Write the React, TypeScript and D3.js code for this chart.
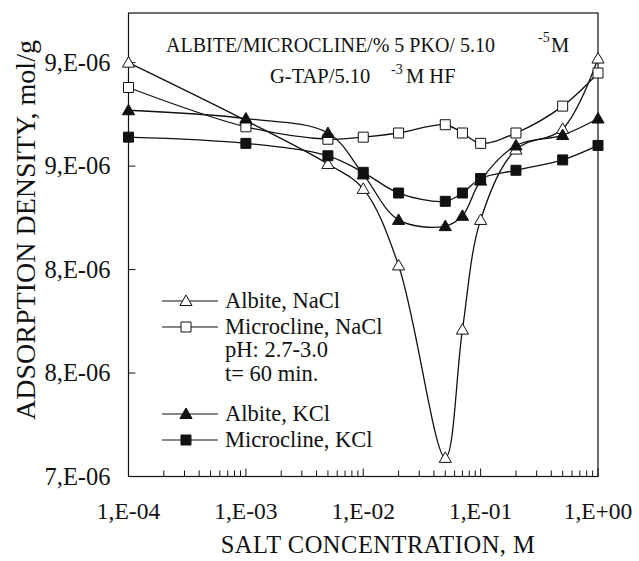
import React, { useEffect } from 'react';
import * as d3 from 'd3';

// salt concentration, M
const concentrations = [1e-4, 1e-3, 5e-3, 1e-2, 2e-2, 5e-2, 7e-2, 1e-1, 2e-1, 5e-1, 1];

// adsorption density, 1e-6 mol/g
const albiteNaCl = [9.0, 8.72, 8.51, 8.39, 8.02, 7.09, 7.71, 8.24, 8.58, 8.68, 9.02];
const microclineNaCl = [8.88, 8.69, 8.63, 8.64, 8.66, 8.7, 8.66, 8.61, 8.66, 8.79, 8.95];
const albiteKCl = [8.77, 8.73, 8.66, 8.46, 8.24, 8.21, 8.26, 8.43, 8.6, 8.65, 8.73];
const microclineKCl = [8.64, 8.61, 8.55, 8.47, 8.37, 8.33, 8.37, 8.44, 8.48, 8.53, 8.6];

const seriesNames = ['Albite, NaCl', 'Microcline, NaCl', 'Albite, KCl', 'Microcline, KCl'];
const legendNotes = ['pH: 2.7-3.0', 't= 60 min.'];

const xTicks = [1e-4, 1e-3, 1e-2, 1e-1, 1];
const xTickLabels = ['1,E-04', '1,E-03', '1,E-02', '1,E-01', '1,E+00'];
const yTicks = [7, 7.5, 8, 8.5, 9];
const yTickLabels = ['7,E-06', '8,E-06', '8,E-06', '9,E-06', '9,E-06'];

const W = 639;
const H = 561;
const left = 128.5, right = 598, top = 13, bottom = 476.5;
const font = '"Liberation Serif", "Times New Roman", serif';

const series = [
  { name: seriesNames[0], values: albiteNaCl, shape: 'tri', filled: false },
  { name: seriesNames[1], values: microclineNaCl, shape: 'sq', filled: false },
  { name: seriesNames[2], values: albiteKCl, shape: 'tri', filled: true },
  { name: seriesNames[3], values: microclineKCl, shape: 'sq', filled: true },
];

const triPath = d3.symbol().type(d3.symbolTriangle).size(64)();
const sqPath = d3.symbol().type(d3.symbolSquare).size(100)();

const Marker = ({ cx, cy, shape, filled }: any) => (
  <path
    d={shape === 'tri' ? triPath : sqPath}
    transform={`translate(${cx},${cy + (shape === 'tri' ? 1 : 0)})`}
    fill={filled ? '#111' : '#fff'}
    stroke="#111"
    strokeWidth={1}
  />
);

export default function App() {
  useEffect(() => {
    document.body.style.margin = '0';
  }, []);

  const x = d3.scaleLog().domain([1e-4, 1]).range([left, right]);
  const y = d3.scaleLinear().domain([7, 9.24]).range([bottom, top]);

  const line = d3
    .line<number>()
    .x((d, i) => x(concentrations[i]))
    .y((d) => y(d))
    .curve(d3.curveCatmullRom.alpha(0.5));

  const minor = x.ticks();

  const legendRows = [
    { y: 301, s: series[0] },
    { y: 327, s: series[1] },
    { y: 350, note: legendNotes[0] },
    { y: 374, note: legendNotes[1] },
    { y: 414, s: series[2] },
    { y: 440, s: series[3] },
  ];

  return (
    <svg width={W} height={H} style={{ display: 'block', background: '#fff' }} fontFamily={font}>
      <rect x={left} y={top} width={right - left} height={bottom - top} fill="none" stroke="#111" strokeWidth={1.2} />

      {minor.map((t, i) => {
        const major = Math.abs(Math.log10(t) - Math.round(Math.log10(t))) < 1e-6;
        return (
          <line key={i} x1={x(t)} x2={x(t)} y1={bottom} y2={bottom - (major ? 8 : 6)} stroke="#111" strokeWidth={1} />
        );
      })}
      {yTicks.map((t, i) => (
        <line key={i} x1={left} x2={left + 7} y1={y(t)} y2={y(t)} stroke="#111" strokeWidth={1} />
      ))}

      {xTicks.map((t, i) => (
        <text key={i} x={x(t)} y={519} fontSize={23.5} textAnchor="middle" fill="#111">
          {xTickLabels[i]}
        </text>
      ))}
      {yTicks.map((t, i) => (
        <text key={i} x={left - 18} y={y(t) + 8} fontSize={24.5} textAnchor="end" fill="#111">
          {yTickLabels[i]}
        </text>
      ))}

      <text x={378} y={553} fontSize={24.5} letterSpacing={0.5} textAnchor="middle" fill="#111">
        SALT CONCENTRATION, M
      </text>
      <text transform="translate(35,230) rotate(-90)" fontSize={28} textAnchor="middle" fill="#111">
        ADSORPTION DENSITY, mol/g
      </text>

      <text x={166} y={51.5} fontSize={20} fill="#111">ALBITE/MICROCLINE/% 5 PKO/ 5.10</text>
      <text x={538} y={42} fontSize={14} fill="#111">-5</text>
      <text x={551} y={51.5} fontSize={20.5} fill="#111">M</text>
      <text x={270} y={83} fontSize={20.5} fill="#111">G-TAP/5.10</text>
      <text x={391} y={74} fontSize={14} fill="#111">-3</text>
      <text x={406} y={83} fontSize={20.5} fill="#111">M HF</text>

      {series.map((s) => (
        <path key={s.name} d={line(s.values) || ''} fill="none" stroke="#111" strokeWidth={1.3} />
      ))}
      {series.map((s) =>
        s.values.map((v, i) => (
          <Marker key={s.name + i} cx={x(concentrations[i])} cy={y(v)} shape={s.shape} filled={s.filled} />
        ))
      )}

      {legendRows.map((r, i) => (
        <g key={i}>
          {r.s && (
            <>
              <line x1={162} x2={218} y1={r.y} y2={r.y} stroke="#111" strokeWidth={1.2} />
              <Marker cx={186} cy={r.y} shape={r.s.shape} filled={r.s.filled} />
            </>
          )}
          <text x={225} y={r.y + 7} fontSize={22.5} fill="#111">
            {r.s ? r.s.name : r.note}
          </text>
        </g>
      ))}
    </svg>
  );
}
